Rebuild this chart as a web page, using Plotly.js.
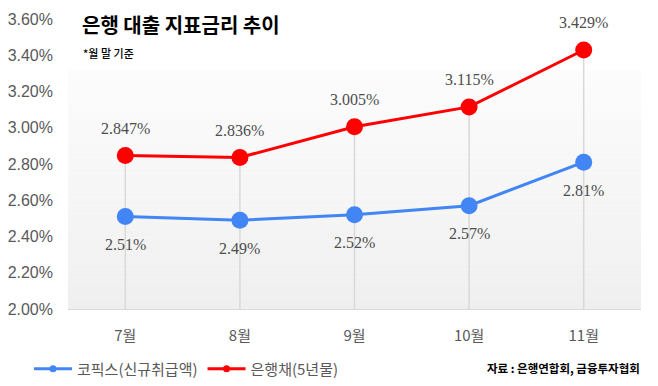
<!DOCTYPE html>
<html>
<head>
<meta charset="utf-8">
<script src="https://cdn.plot.ly/plotly-3.0.1.min.js"></script>
<style>html,body{margin:0;padding:0;background:#fff;}#chart{width:658px;height:386px;}</style>
</head>
<body>
<div id="chart"></div>
<script>
// ---- data ----
const months = ['7월', '8월', '9월', '10월', '11월'];
const cofix = [2.51, 2.49, 2.52, 2.57, 2.81];
const bankBond = [2.847, 2.836, 3.005, 3.115, 3.429];
const cofixLabels = ['2.51%', '2.49%', '2.52%', '2.57%', '2.81%'];
const bondLabels = ['2.847%', '2.836%', '3.005%', '3.115%', '3.429%'];
const yTicks = [2.0, 2.2, 2.4, 2.6, 2.8, 3.0, 3.2, 3.4, 3.6];
const yTickText = ['2.00%', '2.20%', '2.40%', '2.60%', '2.80%', '3.00%', '3.20%', '3.40%', '3.60%'];
const seriesNames = ['코픽스(신규취급액)', '은행채(5년물)'];
const titleText = '은행 대출 지표금리 추이';
const noteText = '*월 말 기준';
const sourceText = '자료 : 은행연합회, 금융투자협회';

const BLUE = '#4285F4', RED = '#FF0000';
const KR = '"Noto Sans CJK KR", "Noto Sans", sans-serif';
const LABEL_FONT = {family: '"Liberation Serif", "DejaVu Serif", serif', size: 16, color: '#4d4d4d'};

// pixel helpers for plot area (l=68, top=19, w=573, h=290)
const W = 658, H = 386, L = 68, T = 19, PW = 573, PH = 290;
const px = x => (x - L) / PW;
const py = y => (T + PH - y) / PH;

const traces = [
  {x: months, y: cofix, type: 'scatter', mode: 'lines+markers', name: seriesNames[0], showlegend: false,
   line: {color: BLUE, width: 3}, marker: {color: BLUE, size: 17}, hoverinfo: 'skip'},
  {x: months, y: bankBond, type: 'scatter', mode: 'lines+markers', name: seriesNames[1], showlegend: false,
   line: {color: RED, width: 3}, marker: {color: RED, size: 17}, hoverinfo: 'skip'},
  // legend entries (small markers like the reference)
  {x: [null], y: [null], type: 'scatter', mode: 'lines+markers', name: seriesNames[0],
   line: {color: BLUE, width: 3}, marker: {color: BLUE, size: 7}},
  {x: [null], y: [null], type: 'scatter', mode: 'lines+markers', name: seriesNames[1],
   line: {color: RED, width: 3}, marker: {color: RED, size: 7}}
];

// background gradient stripes (styling only)
const shapes = [];
const N = 30, topD = py(70);
for (let i = 0; i < N; i++) {
  const c = Math.round(239 + (252 - 239) * (i + 1) / N);
  shapes.push({type: 'rect', xref: 'x domain', yref: 'y domain', layer: 'below',
    x0: 0, x1: 1, y0: topD * i / N, y1: topD * (i + 1) / N,
    fillcolor: `rgb(${c},${c},${c})`, line: {width: 0}});
}
// drop lines from the top point to the axis
months.forEach((m, i) => {
  shapes.push({type: 'line', xref: 'x', yref: 'y', layer: 'below',
    x0: m, x1: m, y0: yTicks[0], y1: Math.max(cofix[i], bankBond[i]),
    line: {color: '#d9d9d9', width: 1.5}});
});

const annotations = [];
months.forEach((m, i) => {
  annotations.push({x: m, y: bankBond[i], xref: 'x', yref: 'y', text: bondLabels[i], showarrow: false,
    yshift: 27, font: LABEL_FONT});
  annotations.push({x: m, y: cofix[i], xref: 'x', yref: 'y', text: cofixLabels[i], showarrow: false,
    yshift: -28, font: LABEL_FONT});
});
annotations.push({xref: 'paper', yref: 'paper', x: px(80), y: py(24), xanchor: 'left', yanchor: 'middle',
  text: titleText, showarrow: false, font: {family: KR, size: 20, color: '#000', weight: 700}});
annotations.push({xref: 'paper', yref: 'paper', x: px(81), y: py(53), xanchor: 'left', yanchor: 'middle',
  text: noteText, showarrow: false, font: {family: KR, size: 11, color: '#000', weight: 500}});
annotations.push({xref: 'paper', yref: 'paper', x: px(642), y: py(368), xanchor: 'right', yanchor: 'middle',
  text: sourceText, showarrow: false, font: {family: KR, size: 11.5, color: '#000', weight: 700}});

const layout = {
  width: W, height: H,
  margin: {l: L, r: W - L - PW, t: T, b: H - T - PH, pad: 0, autoexpand: false},
  paper_bgcolor: '#fff', plot_bgcolor: '#fff',
  showlegend: true,
  legend: {orientation: 'h', x: px(29), xanchor: 'left', y: py(369), yanchor: 'middle',
    font: {family: KR, size: 15, color: '#595959'}, bgcolor: 'rgba(0,0,0,0)', itemwidth: 38},
  xaxis: {type: 'category', range: [-0.5, months.length - 0.5], showgrid: false, zeroline: false,
    showline: true, linecolor: '#d9d9d9', linewidth: 1, ticks: '', automargin: false,
    tickfont: {family: KR, size: 15, color: '#595959'}, ticklabelstandoff: 13, fixedrange: true},
  yaxis: {range: [yTicks[0], yTicks[yTicks.length - 1]], tickvals: yTicks, ticktext: yTickText,
    showgrid: false, zeroline: false, showline: false, ticks: '', automargin: false,
    tickfont: {family: '"Liberation Sans", Arial, sans-serif', size: 16, color: '#595959'},
    ticklabelstandoff: 14, fixedrange: true},
  shapes: shapes,
  annotations: annotations
};

Plotly.newPlot('chart', traces, layout, {displayModeBar: false, staticPlot: true});
</script>
</body>
</html>
